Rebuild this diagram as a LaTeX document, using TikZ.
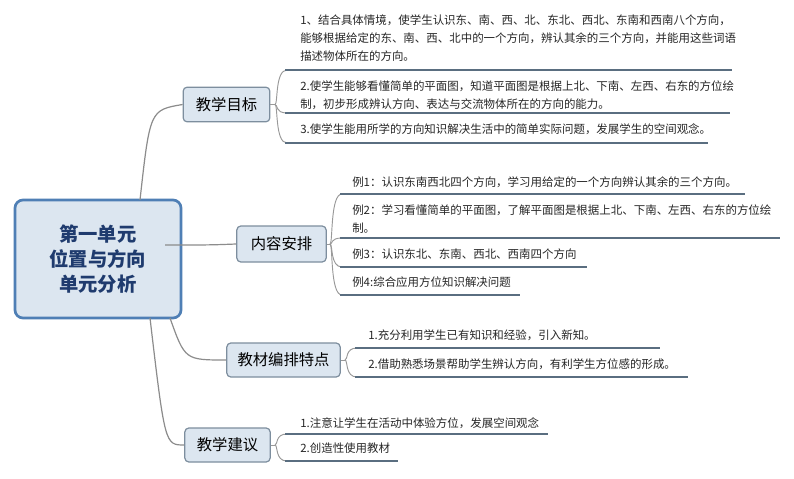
\documentclass[tikz,border=0pt]{standalone}
\usepackage{fontspec}
\newfontfamily\cjk{Noto Sans CJK SC}
\definecolor{bfill}{HTML}{DCE6F0}
\definecolor{cbord}{HTML}{4F7FB5}
\definecolor{bbord}{HTML}{7D8E9E}
\definecolor{ucol}{HTML}{5A6E80}
\definecolor{ctext}{HTML}{1F3B6E}
\begin{document}
\begin{tikzpicture}[x=0.75pt,y=-0.75pt,
  conn/.style={draw=black!45,line width=0.9pt},
  uline/.style={draw=ucol,line width=2pt},
  br/.style={draw=black!40,line width=0.7pt},
  leaf/.style={anchor=north west,inner sep=0pt,font=\cjk\fontsize{8.6}{13.5}\selectfont,align=left,text=black!85},
  branch/.style={draw=bbord,fill=bfill,rounded corners=3pt,line width=0.9pt,font=\cjk\fontsize{11.5}{14}\selectfont,inner sep=0pt}]
\useasboundingbox (0,0) rectangle (794,479);
\fill[white] (0,0) rectangle (794,479);
\node[draw=cbord,line width=2pt,fill=bfill,rounded corners=6pt,minimum width=124.5pt,minimum height=88.5pt,font=\cjk\bfseries\fontsize{14.5}{19}\selectfont,text=ctext,align=center] (c) at (98,259) {第一单元\\位置与方向\\单元分析};
\node[branch,minimum width=65pt,minimum height=26pt] (b1) at (226.5,104.5) {教学目标};
\node[branch,minimum width=67pt,minimum height=27pt] (b2) at (281.5,244) {内容安排};
\node[branch,minimum width=85pt,minimum height=25.5pt] (b3) at (283.5,360) {教材编排特点};
\node[branch,minimum width=64pt,minimum height=25.5pt] (b4) at (227.5,445) {教学建议};
\coordinate (s1) at (140,200);
\coordinate (s2) at (165,245);
\coordinate (s3) at (170,318);
\coordinate (s4) at (150,318);
\draw[conn] (s1) .. controls (150,110) .. (b1.west);
\draw[conn] (s2) .. controls (210,245) .. (b2.west);
\draw[conn] (s3) .. controls (185,360) .. (b3.west);
\draw[conn] (s4) .. controls (165,445) .. (b4.west);
\newcommand\lf[4]{% bx,by,ly,x2
  \draw[br] (#1,#2) .. controls (#1+3,#2) and (#1,#3) .. (#1+12,#3);
  \draw[uline] (#1+10,#3) -- (#4,#3);}
\node[leaf] (t1) at (300,14) {1、结合具体情境，使学生认识东、南、西、北、东北、西北、东南和西南八个方向，\\能够根据给定的东、南、西、北中的一个方向，辨认其余的三个方向，并能用这些词语\\描述物体所在的方向。};
\node[leaf] (t2) at (300,80) {2.使学生能够看懂简单的平面图，知道平面图是根据上北、下南、左西、右东的方位绘\\制，初步形成辨认方向、表达与交流物体所在的方向的能力。};
\node[leaf] (t3) at (300,123) {3.使学生能用所学的方向知识解决生活中的简单实际问题，发展学生的空间观念。};
\draw[br] (b1.east) -- (275,104.5);
\lf{275}{104.5}{70}{732}
\lf{275}{104.5}{113}{730}
\lf{275}{104.5}{143}{708}
\node[leaf] (t4) at (352,176) {例1：认识东南西北四个方向，学习用给定的一个方向辨认其余的三个方向。};
\node[leaf] (t5) at (352,204) {例2：学习看懂简单的平面图，了解平面图是根据上北、下南、左西、右东的方位绘\\制。};
\node[leaf] (t6) at (352,249) {例3：认识东北、东南、西北、西南四个方向};
\node[leaf] (t7) at (352,277) {例4:综合应用方位知识解决问题};
\draw[br] (b2.east) -- (330,244);
\lf{330}{244}{194}{745}
\lf{330}{244}{238}{780}
\lf{330}{244}{267}{587}
\lf{330}{244}{295}{520}
\node[leaf] (t8) at (368,329) {1.充分利用学生已有知识和经验，引入新知。};
\node[leaf] (t9) at (368,358) {2.借助熟悉场景帮助学生辨认方向，有利学生方位感的形成。};
\draw[br] (b3.east) -- (345,360);
\lf{345}{360}{348}{660}
\lf{345}{360}{377}{688}
\node[leaf] (t10) at (300,417) {1.注意让学生在活动中体验方位，发展空间观念};
\node[leaf] (t11) at (300,443) {2.创造性使用教材};
\draw[br] (b4.east) -- (275,445);
\lf{275}{445}{434}{548}
\lf{275}{445}{461}{398}
\end{tikzpicture}
\end{document}
